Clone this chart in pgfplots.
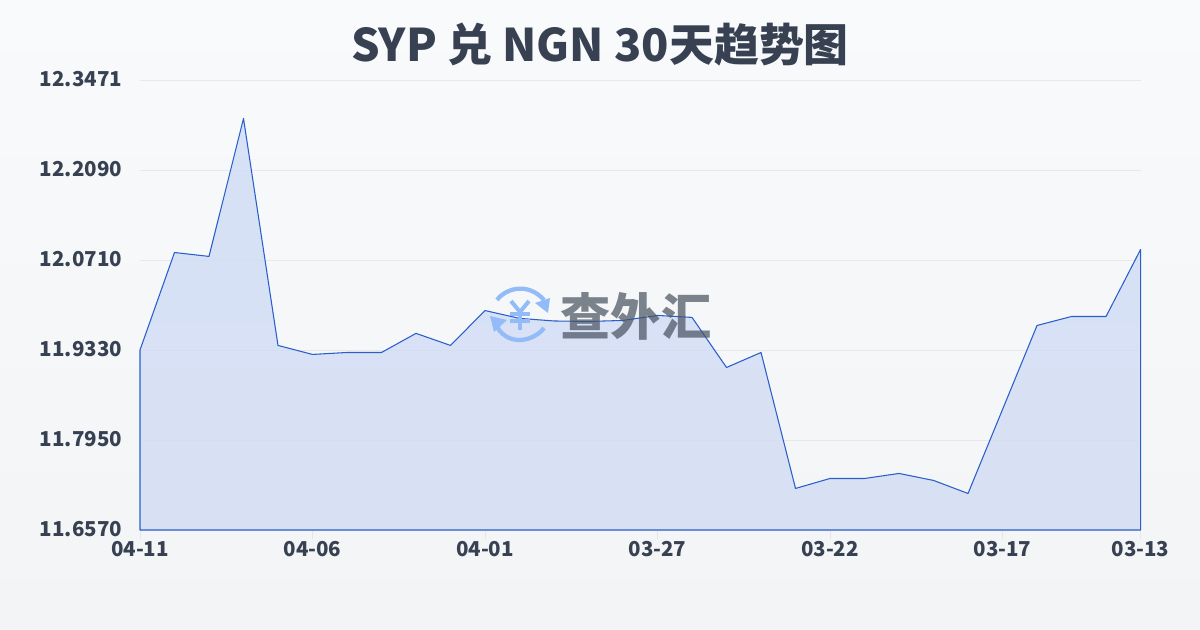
\documentclass[border=0pt]{standalone}
\usepackage{pgfplots}
\pgfplotsset{compat=1.18}
\usepackage{fontspec}
\setmainfont{Noto Sans}
\newfontfamily\cjk{Noto Sans CJK SC}
\definecolor{lab}{HTML}{374151}
\definecolor{ln}{HTML}{2A5FCB}
\definecolor{wm}{HTML}{4B5563}
\definecolor{ic}{HTML}{93BBF8}
\definecolor{bgt}{HTML}{F8FAFC}
\definecolor{bgb}{HTML}{F3F4F6}
\definecolor{fillt}{HTML}{CFDCF6}
\definecolor{fillb}{HTML}{D2DCF2}
\begin{document}
\begin{tikzpicture}[x=0.75pt,y=-0.75pt]
\shade[top color=bgt, bottom color=bgb] (0,0) rectangle (1200,630);
\begin{axis}[
  at={(105pt,-397.5pt)}, anchor=south west,
  scale only axis, width=750.4pt, height=337.5pt,
  xmin=0, xmax=29, ymin=11.657, ymax=12.347,
  xtick={0,5,10,15,20,25,29},
  xticklabels={04-11,04-06,04-01,03-27,03-22,03-17,03-13},
  ytick={11.657,11.795,11.933,12.071,12.209,12.347},
  yticklabels={11.6570,11.7950,11.9330,12.0710,12.2090,12.3471},
  xtick pos=bottom, ytick pos=left,
  tick align=outside, axis line style={draw=none},
  ymajorgrids, grid style={draw=black!9, line width=0.5pt},
  x tick style={draw=black!10, line width=0.6pt}, major tick length=7pt,
  y tick style={draw=none},
  tick label style={font=\fontsize{15.4}{18}\selectfont\cjk\bfseries, text=lab},
  yticklabel style={xshift=-2.8pt,yshift=0.6pt},
  xticklabel style={yshift=2pt},
  clip=false,
]
\addplot[draw=ln, line width=0.8pt, line join=round, top color=fillt, bottom color=fillb, fill opacity=0.8] table {
0 11.9330
1 12.0825
2 12.0765
3 12.2880
4 11.9400
5 11.9262
6 11.9292
7 11.9292
8 11.9585
9 11.9400
10 11.9935
11 11.9815
12 11.9775
13 11.9768
14 11.9783
15 11.9860
16 11.9830
17 11.9062
18 11.9292
19 11.7207
20 11.7360
21 11.7360
22 11.7437
23 11.7330
24 11.7130
25 11.8418
26 11.9706
27 11.9844
28 11.9844
29 12.0870
} \closedcycle;
\end{axis}
\node[anchor=center, text=lab] at (600,45) {\fontsize{33.7}{40}\selectfont\cjk\bfseries SYP 兑 NGN 30天趋势图};
% watermark
\begin{scope}[ic, line width=3.2pt]
\draw (497,300) .. controls (506,288) and (528,282) .. (544,300);
\fill (550,298) -- (548,313) -- (535,303) -- cycle;
\draw (544,328) .. controls (535,340) and (510,348) .. (497,327);
\fill (490,316) -- (507,320) -- (494,332) -- cycle;
\draw[line width=3pt] (511,301) -- (520,312) -- (529,301);
\draw[line width=3pt] (520,312) -- (520,330);
\draw[line width=2.6pt] (510,314) -- (530,314);
\draw[line width=2.6pt] (510,321) -- (530,321);
\end{scope}
\node[anchor=center, text=wm, opacity=0.72] at (636,316) {\fontsize{37.7}{44}\selectfont\cjk\bfseries 查外汇};
\end{tikzpicture}
\end{document}
